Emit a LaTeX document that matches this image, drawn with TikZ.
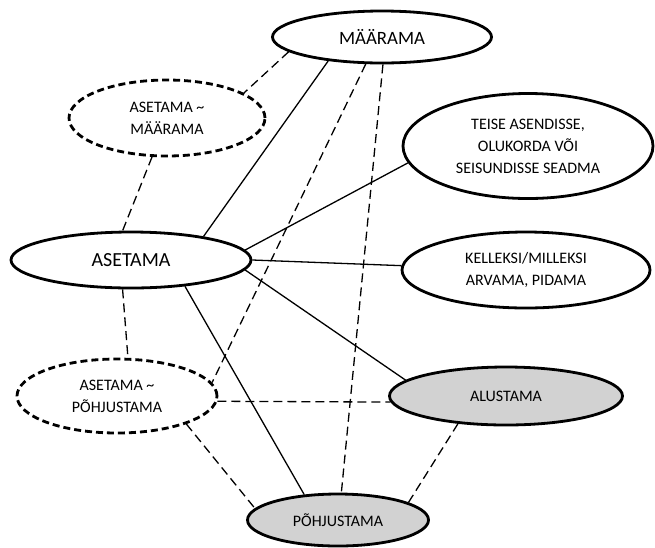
\documentclass[tikz,border=0pt]{standalone}
\usepackage{fontspec}
\setmainfont{Carlito}
\usetikzlibrary{shapes.geometric}
\definecolor{nodegray}{RGB}{210,210,210}
\tikzset{
  ell/.style={ellipse, draw=black, line width=2.8pt, inner sep=0pt, align=center, fill=white},
  dell/.style={ell, dash pattern=on 7pt off 4pt},
  gell/.style={ell, fill=nodegray},
  txt/.style={font=\fontsize{16}{22}\selectfont},
  sline/.style={line width=1.3pt},
  dline/.style={line width=1.3pt, dash pattern=on 9pt off 5pt}
}
\begin{document}
\begin{tikzpicture}[x=1pt,y=-1pt]
\useasboundingbox (0,0) rectangle (655,547);
\node[ell, minimum width=219pt, minimum height=52pt, font=\fontsize{18.8}{22}\selectfont] (M) at (382,37) {MÄÄRAMA};
\node[dell, minimum width=196pt, minimum height=76pt, txt] (AM) at (167,118) {ASETAMA \textasciitilde\\MÄÄRAMA};
\node[ell, minimum width=250pt, minimum height=105pt, txt] (T) at (528,146) {TEISE ASENDISSE,\\OLUKORDA VÕI\\SEISUNDISSE SEADMA};
\node[ell, minimum width=240pt, minimum height=56pt, font=\fontsize{20}{22}\selectfont] (A) at (131,260) {ASETAMA};
\node[ell, minimum width=248pt, minimum height=76pt, txt] (K) at (526,270) {KELLEKSI/MILLEKSI\\ARVAMA, PIDAMA};
\node[dell, minimum width=200pt, minimum height=74pt, txt] (AP) at (117,396) {ASETAMA \textasciitilde\\PÕHJUSTAMA};
\node[gell, minimum width=233pt, minimum height=58pt, txt] (AL) at (506,396) {ALUSTAMA};
\node[gell, minimum width=181pt, minimum height=52pt, txt] (P) at (338,520) {PÕHJUSTAMA};
% solid connectors
\draw[sline] (A.18) -- (M.204.4);
\draw[sline] (A.5.5) -- (T.188.4);
\draw[sline] (A.0.5) -- (K.178.2);
\draw[sline] (A.-5) -- (AL.171.3);
\draw[sline] (A.-26.6) -- (P.143.7);
% dashed connectors
\draw[dline] (M.189) -- (AM.18.7);
\draw[dline] (AM.249) -- (A.106);
\draw[dline] (M.239) -- (AP.8.2);
\draw[dline] (M.272) -- (P.83.4);
\draw[dline] (A.254) -- (AP.74.5);
\draw[dline] (AP.-3.4) -- (AL.183);
\draw[dline] (AP.-22.9) -- (P.172);
\draw[dline] (AL.210) -- (P.14.4);
\end{tikzpicture}
\end{document}
